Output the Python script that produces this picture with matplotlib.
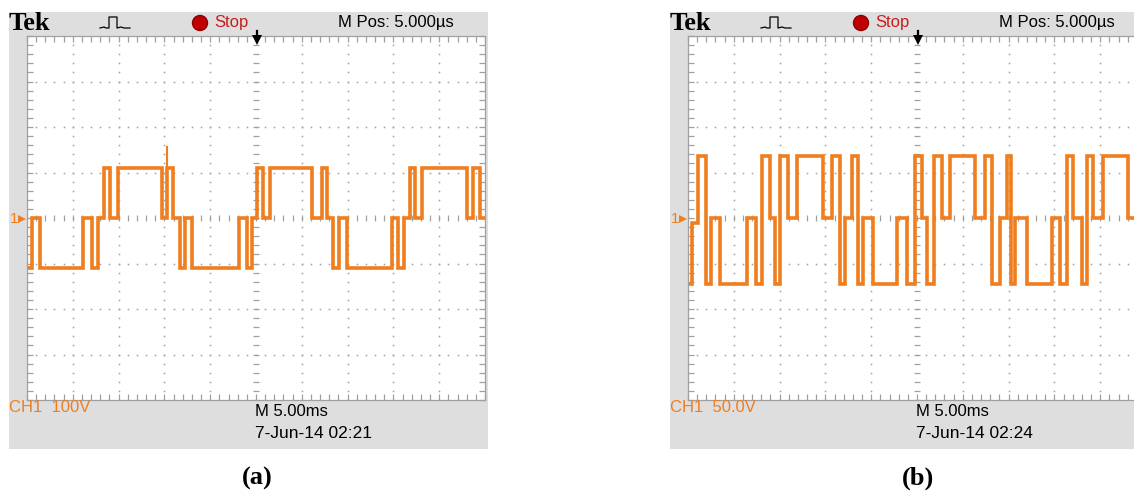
import matplotlib
matplotlib.use("Agg")
import matplotlib.pyplot as plt
import numpy as np
from matplotlib.patches import Rectangle, Circle
from matplotlib import font_manager

W, H = 1134, 493

# (a) 100 V/div, 5 ms/div : switching instants (ms) and level after each instant (V)
a_t = [0.15, 0.58, 1.42, 6.08, 7.13, 7.79, 8.41, 9.06, 9.97, 14.70, 15.25, 15.97,
       16.70, 17.25, 18.05, 23.18, 24.05, 24.53, 25.07, 25.80, 26.53, 31.15, 32.17, 32.79,
       33.44, 34.10, 34.90, 39.81, 40.54, 41.16, 41.81, 42.36, 43.16, 48.00, 48.73, 49.45, 50.0]
a_v = [-110, 0, -110, 0, -110, 0, 110, 0, 110, 0, 110, 0,
       -110, 0, -110, 0, -110, 0, 110, 0, 110, 0, 110, 0,
       -110, 0, -110, 0, -110, 0, 110, 0, 110, 0, 110, 0, 0]
a_spike_t = [15.25]
a_spike_v = [158]

# (b) 50 V/div, 5 ms/div
b_t = [0.04, 0.40, 1.13, 1.93, 2.47, 3.49, 6.40, 7.39, 8.11, 8.95, 9.50, 10.04,
       10.95, 11.86, 14.77, 15.68, 16.59, 17.14, 17.87, 18.60, 19.14, 20.23, 22.78, 23.87,
       24.78, 25.51, 26.06, 26.86, 27.69, 28.60, 31.33, 32.42, 33.15, 34.06, 34.79, 35.23,
       35.70, 36.97, 39.70, 40.61, 41.41, 42.07, 42.98, 43.52, 44.25, 45.34, 48.07, 49.16,
       49.89, 50.0]
b_v = [-72, -6, 68, -72, 0, -72, 0, -72, 68, 0, -72, 68,
       0, 68, 0, 68, -72, 0, 68, -72, 0, -72, 0, -72,
       68, 0, -72, 68, 0, 68, 0, 68, -72, 0, 68, -72,
       0, -72, 0, -72, 68, 0, -72, 68, 0, 68, 0, 68,
       -72, -72]

panels = [
    dict(ox=0, t=a_t, v=a_v, vdiv=100, ch="CH1  100V", date="7-Jun-14 02:21", tag="(a)",
         spike_t=a_spike_t, spike_v=a_spike_v),
    dict(ox=661, t=b_t, v=b_v, vdiv=50, ch="CH1  50.0V", date="7-Jun-14 02:24", tag="(b)",
         spike_t=[], spike_v=[]),
]

ORANGE = "#f07d1e"
GREY_BG = "#dedede"
GRID = "#a0a0a0"

avail = {f.name for f in font_manager.fontManager.ttflist}
SANS = [f for f in ["Liberation Sans Narrow", "Liberation Sans", "DejaVu Sans"] if f in avail]
SERIF = [f for f in ["Liberation Serif", "DejaVu Serif"] if f in avail]


def box(x0, y0, x1, y1):
    return [x0 / W, 1 - y1 / H, (x1 - x0) / W, (y1 - y0) / H]


fig = plt.figure(figsize=(W / 100, H / 100), dpi=100)
bg = fig.add_axes([0, 0, 1, 1], zorder=0)
bg.set_xlim(0, W)
bg.set_ylim(H, 0)
bg.axis("off")
fg = fig.add_axes([0, 0, 1, 1], zorder=5)
fg.set_xlim(0, W)
fg.set_ylim(H, 0)
fg.axis("off")
fg.patch.set_alpha(0)

for p in panels:
    ox = p["ox"]
    vd = p["vdiv"]
    bg.add_patch(Rectangle((ox + 9, 12), 479, 437, facecolor=GREY_BG, edgecolor="none"))

    ax = fig.add_axes(box(ox + 27, 36, ox + 485, 400), zorder=2)
    ax.set_facecolor("white")
    ax.set_xlim(0, 50)
    ax.set_ylim(-4 * vd, 4 * vd)

    fine_x = np.arange(0, 50.01, 1.0)
    fine_y = np.arange(-4, 4.01, 0.2) * vd
    for k in range(1, 10):
        if k == 5:
            continue
        ax.plot(np.full_like(fine_y, k * 5.0), fine_y, ls="", marker="s", ms=1.1,
                mew=0, color=GRID)
    for k in range(-3, 4):
        if k == 0:
            continue
        ax.plot(fine_x, np.full_like(fine_x, k * vd), ls="", marker="s", ms=1.1,
                mew=0, color=GRID)
    ax.plot(fine_x, np.zeros_like(fine_x), ls="", marker="|", ms=4, mew=0.9, color=GRID)
    ax.plot(np.full_like(fine_y, 25.0), fine_y, ls="", marker="_", ms=5, mew=0.9, color=GRID)

    ax.set_xticks(fine_x)
    ax.set_yticks(fine_y)
    ax.tick_params(direction="in", length=4, width=0.9, color=GRID, top=True, right=True,
                   labelleft=False, labelbottom=False)
    for s in ax.spines.values():
        s.set_color(GRID)
        s.set_linewidth(0.9)

    ax.step(p["t"], p["v"], where="post", color=ORANGE, lw=2.6, solid_joinstyle="miter")
    if p["spike_t"]:
        ax.vlines(p["spike_t"], 1.1 * vd, p["spike_v"], color=ORANGE, lw=1.5)

    # header
    fg.text(ox + 9, 23, "Tek", family=SERIF, weight="bold", fontsize=19, va="center",
            ha="left", color="black")
    fg.plot([ox + 100, ox + 104, ox + 106, ox + 109, ox + 109, ox + 117, ox + 117,
             ox + 121, ox + 124, ox + 130],
            [28, 27, 28, 28, 17, 17, 28, 27, 28, 28], color="black", lw=0.9)
    fg.add_patch(Circle((ox + 200, 23), 7.5, facecolor="#c00000", edgecolor="#900000"))
    fg.text(ox + 214, 22, "Stop", family=SANS, fontsize=12, color="#c81e1e",
            va="center", ha="left")
    fg.text(ox + 338, 22, "M Pos: 5.000µs", family=SANS, fontsize=12, color="black",
            va="center", ha="left")
    # trigger position arrow
    fg.plot([ox + 257, ox + 257], [31, 38], color="black", lw=1.6)
    fg.plot([ox + 257], [40], marker="v", ms=7, color="black", mew=0)
    # channel marker
    fg.text(ox + 10, 219, "1", family=SANS, fontsize=11, color=ORANGE, va="center",
            ha="left")
    fg.plot([ox + 22], [219], marker=">", ms=6, color=ORANGE, mew=0)
    # footer
    fg.text(ox + 9, 408, p["ch"], family=SANS, fontsize=12, color=ORANGE, va="center",
            ha="left")
    fg.text(ox + 255, 412, "M 5.00ms", family=SANS, fontsize=12, color="black",
            va="center", ha="left")
    fg.text(ox + 255, 433, p["date"], family=SANS, fontsize=12.5, color="black",
            va="center", ha="left")
    # sub-caption
    fg.text(ox + 257, 478, p["tag"], family=SERIF, weight="bold", fontsize=19,
            color="black", va="center", ha="center")

fig.savefig("out.png", dpi=100)
